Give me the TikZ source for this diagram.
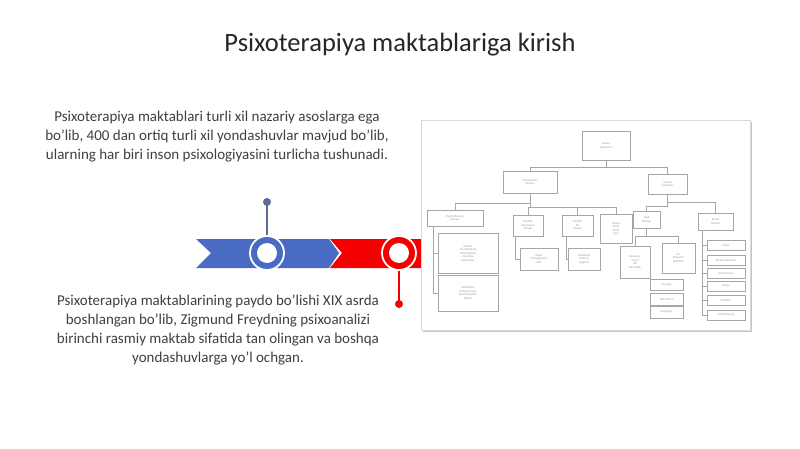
\documentclass[tikz,border=0pt]{standalone}
\usepackage{fontspec}
\setmainfont{Carlito}
\usepackage{xcolor}
\usepackage{tikz}
\usetikzlibrary{calc}
\usetikzlibrary{arrows}
\usetikzlibrary{positioning}
\tikzset{>=latex'}
\definecolor{bandblue}{HTML}{4A6BC4}
\definecolor{bandred}{HTML}{F40000}
\definecolor{stemblue}{HTML}{5D6A95}
\definecolor{textgray}{HTML}{404040}
\tikzset{
	ob/.style={draw=gray!70,line width=0.3pt,fill=white,align=center,inner sep=0.5pt,text=gray!80,font=\fontsize{2.6}{3}\selectfont},
	ol/.style={draw=gray!70,line width=0.3pt}
}

\begin{document}
\begin{tikzpicture}[x=0.03cm,y=-0.03cm]
	\useasboundingbox[fill=white] (0,0) rectangle (800,449);
	\node[text=black!85,font=\fontsize{22.6}{26}\selectfont] (title) at (400,45) {Psixoterapiya maktablariga kirish};
	\node[text=textgray,align=center,font=\fontsize{12.8}{16.2}\selectfont] (txt1) at (217,137) {Psixoterapiya maktablari turli xil nazariy asoslarga ega\\bo'lib, 400 dan ortiq turli xil yondashuvlar mavjud bo'lib,\\ularning har biri inson psixologiyasini turlicha tushunadi.};
	\node[text=textgray,align=center,font=\fontsize{12.8}{16.2}\selectfont] (txt2) at (218,330) {Psixoterapiya maktablarining paydo bo'lishi XIX asrda\\boshlangan bo'lib, Zigmund Freydning psixoanalizi\\birinchi rasmiy maktab sifatida tan olingan va boshqa\\yondashuvlarga yo'l ochgan.};
	\fill[bandblue] (196,239) -- (329,239) -- (339,253) -- (329,268) -- (196,268) -- (211,253) -- cycle;
	\fill[bandred] (330,239) -- (425,239) -- (425,268) -- (330,268) -- (342,253) -- cycle;
	\coordinate (dot1) at (267,202);
	\coordinate (dot2) at (399,304);
	\draw[stemblue,line width=1.2pt] (dot1) -- (267,236);
	\fill[stemblue] (dot1) circle (4);
	\draw[bandred,line width=1.2pt] (dot2) -- (399,270);
	\fill[bandred] (dot2) circle (4);
	\node[circle,draw=white,line width=1.5pt,fill=bandblue,minimum size=1.02cm,inner sep=0pt] (c1) at (267,253) {};
	\node[circle,draw=white,line width=1.5pt,fill=bandred,minimum size=1.02cm,inner sep=0pt] (c2) at (399,253) {};
	\fill[white] (c1) circle (10);
	\fill[white] (c2) circle (10);
	\fill[gray!45] (423,122) rectangle (752,332);
	\draw[gray!30,fill=white] (421,120) rectangle (750,330);
	\node[ob,minimum width=1.44cm,minimum height=0.87cm] (top) at (606,145.5) {Group\\Dynamics};
	\node[ob,minimum width=1.62cm,minimum height=0.66cm] (tg) at (530,182) {Therapeutic\\Groups};
	\node[ob,minimum width=1.17cm,minimum height=0.6cm] (gf) at (667.5,184) {Group\\Functions};
	\node[ob,minimum width=1.68cm,minimum height=0.48cm] (pg) at (455,218) {Psychotherapy\\Groups};
	\node[ob,minimum width=0.9cm,minimum height=0.63cm] (b2) at (528,225.5) {Healthy\\Expression\\Groups};
	\node[ob,minimum width=0.93cm,minimum height=0.63cm] (b3) at (577.5,225.5) {Health\\Ed\\Groups};
	\node[ob,minimum width=0.96cm,minimum height=0.87cm] (b4) at (616,228.5) {Group\\Work\\Team\\Care};
	\node[ob,minimum width=0.81cm,minimum height=0.51cm] (task) at (646.5,219.5) {Task\\Groups};
	\node[ob,minimum width=1.05cm,minimum height=0.51cm] (soc) at (715.5,221.5) {Social\\Groups};
	\node[ob,minimum width=1.8cm,minimum height=1.2cm] (pg1) at (468,253) {Gestalt\\Psychodrama\\Transactional\\Cognitive\\Existential};
	\node[ob,minimum width=1.8cm,minimum height=1.08cm] (pg2) at (468,293) {Existential\\Interpersonal\\Psychoanalytic\\Others};
	\node[ob,minimum width=1.14cm,minimum height=0.66cm] (b2a) at (539,259) {Anger\\Management\\skill};
	\node[ob,minimum width=0.96cm,minimum height=0.66cm] (b3a) at (584,259) {Individual\\Mutual\\Support};
	\node[ob,minimum width=0.9cm,minimum height=0.96cm] (t1) at (635,262) {Advocacy\\Social\\Ad\\Hoc Work};
	\node[ob,minimum width=0.99cm,minimum height=0.9cm] (t2) at (678.5,258) {On\\Research\\Addition};
	\node[ob,minimum width=0.99cm,minimum height=0.33cm] (t3a) at (666.5,285) {Therapy};
	\node[ob,minimum width=0.99cm,minimum height=0.36cm] (t3b) at (666.5,299) {Task Action};
	\node[ob,minimum width=0.99cm,minimum height=0.36cm] (t3c) at (666.5,312) {Meetings};
	\node[ob,minimum width=1.14cm,minimum height=0.3cm] (s1) at (726,245) {Clubs};
	\node[ob,minimum width=1.14cm,minimum height=0.3cm] (s2) at (726,260) {Social awareness};
	\node[ob,minimum width=1.14cm,minimum height=0.3cm] (s3) at (726,273) {Associations};
	\node[ob,minimum width=1.14cm,minimum height=0.3cm] (s4) at (726,286) {Gangs};
	\node[ob,minimum width=1.14cm,minimum height=0.3cm] (s5) at (726,300) {Families};
	\node[ob,minimum width=1.14cm,minimum height=0.3cm] (s6) at (726,315) {Cohort Group};
	\draw[ol] (top.south) -- ++(0,7) -| (tg.north);
	\draw[ol] (top.south) -- ++(0,7) -| (gf.north);
	\draw[ol] (tg.south) -- ++(0,10) -| (pg.north);
	\draw[ol] (tg.south) -- ++(0,14) -| (b2.north);
	\draw[ol] (tg.south) -- ++(0,14) -| (b3.north);
	\draw[ol] (tg.south) -- ++(0,14) -| (b4.north);
	\draw[ol] (gf.south) -- ++(0,8) -| (soc.north);
	\draw[ol] (gf.south) -- ++(0,12) -| (task.north);
	\draw[ol] ($(pg.south west)+(6,0)$) |- (pg1.west);
	\draw[ol] ($(pg.south west)+(6,0)$) |- (pg2.west);
	\draw[ol] ($(b2.south west)+(2,0)$) |- (b2a.west);
	\draw[ol] ($(b3.south west)+(4,0)$) |- (b3a.west);
	\draw[ol] (task.south) -- ++(0,8) -| (t1.north);
	\draw[ol] (task.south) -- ++(0,8) -| (t2.north);
	\foreach \s in {s1,s2,s3,s4,s5,s6}
		\draw[ol] ($(soc.south west)+(4,0)$) |- (\s.west);
\end{tikzpicture}
\end{document}
